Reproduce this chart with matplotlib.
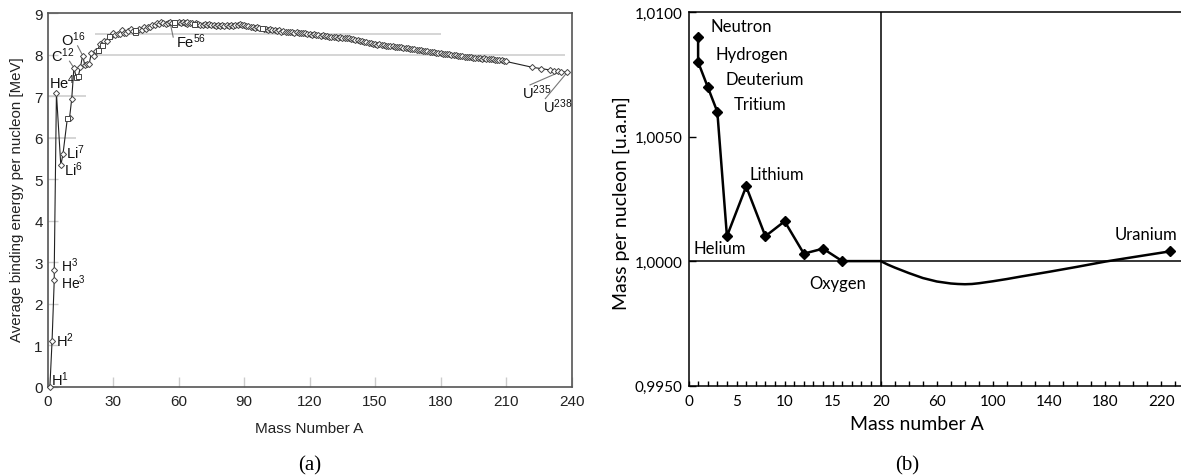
import numpy as np
import matplotlib
matplotlib.use('Agg')
import matplotlib.pyplot as plt
from matplotlib.ticker import FixedLocator, FuncFormatter

plt.rcParams['font.family'] = ['Liberation Sans', 'DejaVu Sans']
plt.rcParams['mathtext.fontset'] = 'custom'
plt.rcParams['mathtext.rm'] = 'Liberation Sans'
plt.rcParams['mathtext.it'] = 'Liberation Sans'
plt.rcParams['mathtext.default'] = 'regular'

# ================= data (a): binding energy per nucleon =================
iso_A = [1, 2, 3, 3, 4, 6, 7, 9, 10, 11, 12, 13, 14, 15, 16, 17, 18, 19, 20,
         21, 22, 23, 24, 25, 26, 27, 28, 29, 30, 31, 32, 33, 34, 35, 36, 37,
         38, 39, 40, 40, 41, 42, 43, 44, 45, 46, 47, 48, 49, 50, 51, 52, 53,
         54, 55, 56, 57, 58, 58, 59, 60, 61, 62, 63, 64, 64, 65, 66, 67, 68,
         69, 70, 71, 72, 73, 74, 75, 76, 77, 78, 79, 80, 81, 82, 83, 84, 85,
         86, 87, 88, 89, 90, 91, 92, 93, 94, 95, 96, 97, 98, 99,
         100, 101, 102, 103, 104, 105, 106, 107, 108, 109, 110, 111, 112,
         113, 114, 115, 116, 117, 118, 119, 120, 121, 122, 123, 124, 125,
         126, 127, 128, 129, 130, 131, 132, 133, 134, 135, 136, 137, 138,
         139, 140, 141, 142, 143, 144, 145, 146, 147, 148, 149, 150, 151,
         152, 153, 154, 155, 156, 157, 158, 159, 160, 161, 162, 163, 164,
         165, 166, 167, 168, 169, 170, 171, 172, 173, 174, 175, 176, 177,
         178, 179, 180, 181, 182, 183, 184, 185, 186, 187, 188, 189, 190,
         191, 192, 193, 194, 195, 196, 197, 198, 199, 200, 201, 202, 203,
         204, 205, 206, 207, 208, 209, 210, 222, 226, 230, 232, 234, 235, 238]
iso_BE = [0.000, 1.112, 2.573, 2.827, 7.074, 5.332, 5.606, 6.463, 6.475, 6.928,
          7.680, 7.470, 7.476, 7.699, 7.976, 7.751, 7.767, 7.779, 8.032,
          7.972, 8.080, 8.112, 8.261, 8.223, 8.334, 8.332, 8.448, 8.449,
          8.521, 8.481, 8.493, 8.498, 8.584, 8.520, 8.520, 8.570, 8.614,
          8.557, 8.551, 8.595, 8.576, 8.617, 8.601, 8.658, 8.619, 8.656,
          8.661, 8.723, 8.711, 8.756, 8.742, 8.776, 8.760, 8.736, 8.765,
          8.790, 8.770, 8.732, 8.792, 8.768, 8.781, 8.765, 8.795, 8.752,
          8.736, 8.777, 8.757, 8.760, 8.734, 8.756, 8.725, 8.722, 8.718,
          8.732, 8.705, 8.725, 8.701, 8.711, 8.695, 8.718, 8.688, 8.711,
          8.696, 8.711, 8.696, 8.717, 8.697, 8.708, 8.705, 8.733, 8.714,
          8.710, 8.693, 8.693, 8.664, 8.667, 8.649, 8.654, 8.635, 8.635,
          8.609,
          8.619, 8.601, 8.607, 8.584, 8.585, 8.571, 8.580, 8.554, 8.567,
          8.548, 8.551, 8.537, 8.545, 8.527, 8.532, 8.516, 8.523, 8.510,
          8.517, 8.500, 8.505, 8.482, 8.488, 8.472, 8.467, 8.458, 8.463,
          8.445, 8.449, 8.431, 8.430, 8.424, 8.428, 8.410, 8.414, 8.398,
          8.403, 8.392, 8.394, 8.378, 8.376, 8.354, 8.346, 8.330, 8.327,
          8.309, 8.304, 8.281, 8.280, 8.263, 8.262, 8.239, 8.244, 8.229,
          8.225, 8.213, 8.215, 8.204, 8.202, 8.189, 8.184, 8.173, 8.174,
          8.162, 8.159, 8.147, 8.142, 8.132, 8.130, 8.115, 8.106, 8.098,
          8.097, 8.087, 8.084, 8.069, 8.061, 8.052, 8.049, 8.039, 8.035,
          8.023, 8.018, 8.008, 8.005, 7.991, 7.989, 7.978, 7.973, 7.963,
          7.963, 7.948, 7.949, 7.938, 7.936, 7.927, 7.927, 7.916, 7.912,
          7.905, 7.906, 7.897, 7.897, 7.886, 7.886, 7.878, 7.875, 7.870,
          7.868, 7.848, 7.834, 7.694, 7.662, 7.631, 7.615, 7.600, 7.591,
          7.570]
square_A = [9, 13, 14, 23, 25, 28, 40, 58, 67, 98]

# isotope labels (a)
lab_text = ['H$^{1}$', 'H$^{2}$', 'H$^{3}$', 'He$^{3}$', 'He$^{4}$', 'Li$^{7}$',
            'Li$^{6}$', 'C$^{12}$', 'O$^{16}$', 'Fe$^{56}$', 'U$^{235}$', 'U$^{238}$']
lab_A = [1.4, 3.8, 6.1, 6.1, 0.7, 8.4, 7.6, 1.4, 6.1, 59.0, 217.4, 226.9]
lab_E = [0.05, 0.985, 2.80, 2.38, 7.19, 5.51, 5.10, 7.84, 8.22, 8.18, 6.96, 6.61]
lab_size = [10.5, 10.5, 10, 10, 10.5, 10.5, 10.5, 10.5, 10.5, 10.5, 10.5, 10.5]
# leader lines (a)
lead_A0 = [10.0, 13.7, 57.5, 221.0, 228.0]
lead_E0 = [7.84, 8.21, 8.42, 7.27, 6.94]
lead_A1 = [12, 16, 56, 235, 238]
lead_E1 = [7.68, 7.98, 8.79, 7.59, 7.57]
# light guide lines (a)
guide_E = [8.5, 8.0, 7.0, 6.0]
guide_A0 = [21.7, 19.4, 0, 0]
guide_A1 = [180, 237, 17.5, 13]

# ================= data (b): mass per nucleon =================
light_A = [1, 1, 2, 3, 4, 6, 8, 10, 12, 14, 16]
light_m = [1.0090, 1.0080, 1.0070, 1.0060, 1.0010, 1.0030, 1.0010, 1.0016,
           1.0003, 1.0005, 1.0000]
curve_A = [20, 25, 30, 35, 40, 45, 50, 55, 60, 65, 70, 75, 80, 85, 90, 100,
           110, 120, 140, 160, 180, 200, 226]
curve_m = [1.0000, 0.99986, 0.99974, 0.99963, 0.99952, 0.99942, 0.99932,
           0.99925, 0.99918, 0.99914, 0.99910, 0.99908, 0.99907, 0.99908,
           0.99911, 0.99919, 0.99928, 0.99938, 0.99957, 0.99977, 0.99998,
           1.00016, 1.00039]
name_text = ['Neutron', 'Hydrogen', 'Deuterium', 'Tritium', 'Lithium',
             'Helium', 'Oxygen', 'Uranium']
name_A = [2.3, 2.8, 3.8, 4.7, 6.35, 0.55, 12.6, 187]
name_m = [1.00926, 1.00813, 1.00711, 1.00611, 1.00331, 1.00031, 0.99893,
          1.00088]

# ================= figure =================
W, H = 1181, 477
fig = plt.figure(figsize=(W / 100, H / 100), dpi=100)

# ---------------- panel (a) ----------------
ax1 = fig.add_axes([47.7 / W, (H - 388) / H, 523.8 / W, 374 / H])
ax1.set_xlim(0, 240)
ax1.set_ylim(0, 9)
ax1.hlines(guide_E, guide_A0, guide_A1, color='#d2d2d2', lw=1.3, zorder=0)
ax1.plot(iso_A, iso_BE, color='#222222', lw=0.8, zorder=2, clip_on=False)
A_arr = np.array(iso_A)
E_arr = np.array(iso_BE)
is_sq = np.isin(A_arr, square_A)
ax1.plot(A_arr[~is_sq], E_arr[~is_sq], ls='none', marker='D', ms=3.1,
         mfc='white', mec='#444444', mew=0.7, zorder=3, clip_on=False)
ax1.plot(A_arr[is_sq], E_arr[is_sq], ls='none', marker='s', ms=3.6,
         mfc='white', mec='#444444', mew=0.7, zorder=3, clip_on=False)
for a0, e0, a1, e1 in zip(lead_A0, lead_E0, lead_A1, lead_E1):
    ax1.plot([a0, a1], [e0, e1], color='#777777', lw=0.8, zorder=1)
for t, a, e, fs in zip(lab_text, lab_A, lab_E, lab_size):
    ax1.text(a, e, t, fontsize=fs, ha='left', va='baseline', color='#111111')

ax1.xaxis.set_major_locator(FixedLocator(list(range(0, 241, 30))))
ax1.yaxis.set_major_locator(FixedLocator(list(range(0, 10))))
ax1.tick_params(axis='both', direction='in', length=7, width=1,
                color='#cccccc', labelsize=11, labelcolor='#222222')
ax1.tick_params(axis='x', pad=5)
ax1.tick_params(axis='y', pad=3.5)
for s in ax1.spines.values():
    s.set_color('#555555')
    s.set_linewidth(1.2)
fig.text(17.5 / W, 1 - 200 / H, 'Average binding energy per nucleon [MeV]',
         rotation=90, ha='center', va='center', fontsize=10.8, color='#222222')
fig.text(309.6 / W, 1 - 429 / H, 'Mass Number A', ha='center', va='center',
         fontsize=11, color='#222222')
fig.text(309.6 / W, 1 - 466 / H, '(a)', ha='center', va='center',
         fontsize=15, family='Liberation Serif')

# ---------------- panel (b) ----------------
K = 0.146


def fwd(a):
    a = np.asarray(a, dtype=float)
    return np.where(a <= 20, a, 20 + (a - 20) * K)


def inv(t):
    t = np.asarray(t, dtype=float)
    return np.where(t <= 20, t, 20 + (t - 20) / K)


ax2 = fig.add_axes([688.5 / W, (H - 386.5) / H, (W - 688.5) / W, 373.2 / H])
ax2.set_xscale('function', functions=(fwd, inv))
ax2.set_xlim(0, 234)
ax2.set_ylim(0.9950, 1.0100)
ax2.axhline(1.0, color='black', lw=1.1, zorder=1)
ax2.axvline(20, color='black', lw=1.1, zorder=1)
line_A = light_A + curve_A
line_m = light_m + curve_m
ax2.plot(line_A, line_m, color='black', lw=1.8, zorder=2,
         solid_joinstyle='round')
ax2.plot(light_A + [curve_A[-1]], light_m + [curve_m[-1]], ls='none',
         marker='D', ms=4.6, color='black', zorder=3, clip_on=False)
for t, a, m in zip(name_text, name_A, name_m):
    ax2.text(a, m, t, fontsize=12, family='Lato', ha='left', va='baseline')

major_x = [0, 5, 10, 15, 20, 60, 100, 140, 180, 220]
minor_x = [v for v in list(range(1, 20)) + list(range(30, 231, 10)) if v not in major_x]
ax2.xaxis.set_major_locator(FixedLocator(major_x))
ax2.xaxis.set_minor_locator(FixedLocator(minor_x))
ax2.xaxis.set_major_formatter(FuncFormatter(lambda v, p: '%d' % round(v)))
ax2.yaxis.set_major_locator(FixedLocator([0.9950, 1.0000, 1.0050, 1.0100]))
ax2.yaxis.set_major_formatter(FuncFormatter(lambda v, p: ('%.4f' % v).replace('.', ',')))
ax2.tick_params(axis='both', which='both', direction='in', color='black',
                width=1)
ax2.tick_params(axis='x', which='both', length=3.5, pad=6)
ax2.tick_params(axis='y', which='major', length=5, pad=4.5)
for lab in ax2.get_xticklabels() + ax2.get_yticklabels():
    lab.set_family('Lato')
    lab.set_fontsize(11)
ax2.spines['right'].set_visible(False)
for s in ['left', 'top', 'bottom']:
    ax2.spines[s].set_linewidth(1.1)
fig.text(621.7 / W, 1 - 203 / H, 'Mass per nucleon [u.a.m]', rotation=90,
         ha='center', va='center', fontsize=14, family='Lato')
fig.text(917 / W, 1 - 425 / H, 'Mass number A', ha='center', va='center',
         fontsize=14, family='Lato')
fig.text(907 / W, 1 - 466 / H, '(b)', ha='center', va='center',
         fontsize=15, family='Liberation Serif')

fig.savefig('out.png', dpi=100)
